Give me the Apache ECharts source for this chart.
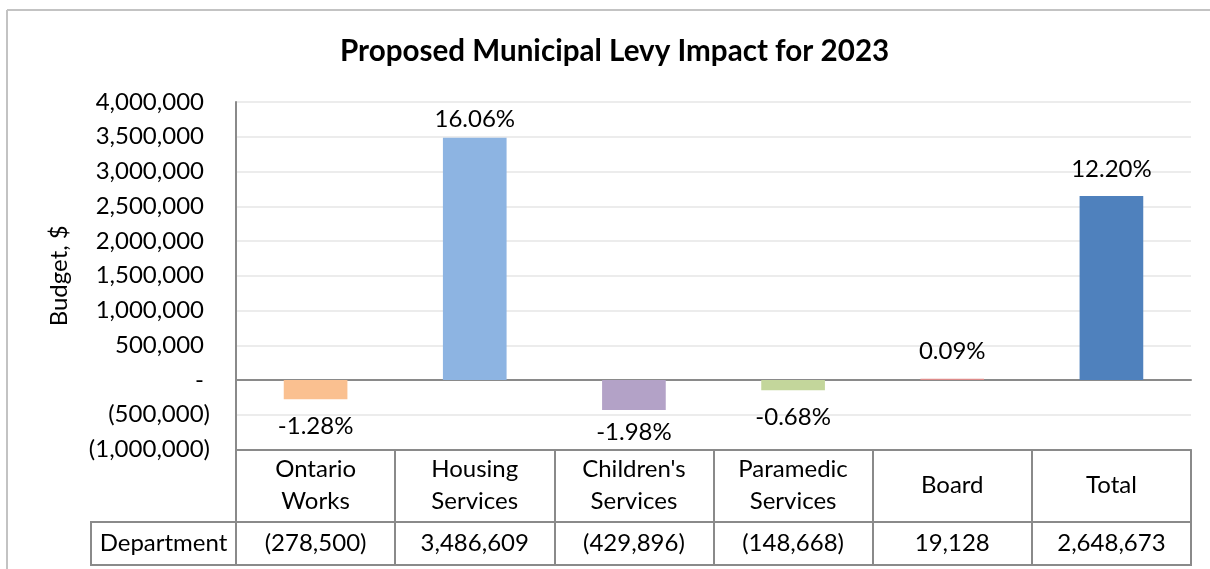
<!DOCTYPE html>
<html><head><meta charset="utf-8">
<script src="https://cdn.jsdelivr.net/npm/echarts/dist/echarts.min.js"></script>
<style>html,body{margin:0;padding:0;background:#fff}#c{width:1210px;height:569px}</style>
</head><body><div id="c"></div>
<script>
// ---- data ----
const categories = ['Ontario Works', 'Housing Services', "Children's Services", 'Paramedic Services', 'Board', 'Total'];
const levyChange = [-278500, 3486609, -429896, -148668, 19128, 2648673];
const percentLabels = ['-1.28%', '16.06%', '-1.98%', '-0.68%', '0.09%', '12.20%'];
const rowHeader = ['Department'];
const yMin = -1000000, yMax = 4000000, yInterval = 500000;
const titleText = 'Proposed Municipal Levy Impact for 2023';
const yAxisName = 'Budget, $';

// ---- styles ----
const barColors = ['#FAC090', '#8DB4E2', '#B3A2C7', '#C3D69B', '#DE8C8A', '#4F81BD'];
const FONT = 'Lato';
const GRAY = '#8a8a8a';
const FS = 24;

const plot = { left: 236, top: 102, width: 955, height: 347.5 };
const headerH = 72.5, rowH = 43;

function acct(v) {
  const s = Math.abs(v).toLocaleString('en-US');
  return v < 0 ? '(' + s + ')' : s;
}
const pxPerUnit = plot.height / (yMax - yMin);

const barData = levyChange.map((v, i) => {
  const room = (v >= 0 ? (yMax - v) : (v - yMin)) * pxPerUnit;
  const dist = Math.max(2, Math.min(15, room - 29));
  return {
    value: v,
    itemStyle: { color: barColors[i] },
    label: { position: v < 0 ? 'bottom' : 'top', distance: dist, formatter: percentLabels[i] }
  };
});

const chart = echarts.init(document.getElementById('c'), null, { renderer: 'canvas' });
chart.setOption({
  backgroundColor: '#fff',
  animation: false,
  textStyle: { fontFamily: FONT },
  title: {
    text: titleText, left: 340, top: 36, padding: 0,
    textStyle: { fontFamily: FONT, fontSize: 29.6, fontWeight: 'bold', color: '#000' }
  },
  graphic: [
    { type: 'line', shape: { x1: 7, y1: 10, x2: 1210, y2: 10 }, style: { stroke: '#c3c3c3', lineWidth: 2 } },
    { type: 'line', shape: { x1: 7, y1: 10, x2: 7, y2: 569 }, style: { stroke: '#c3c3c3', lineWidth: 2 } }
  ],
  grid: [
    { left: plot.left, top: plot.top, width: plot.width, height: plot.height },
    { left: plot.left, top: plot.top + plot.height + headerH, width: plot.width, height: rowH,
      show: true, borderColor: GRAY, borderWidth: 2, backgroundColor: 'transparent' },
    { left: 91, top: plot.top + plot.height + headerH, width: plot.left - 91, height: rowH,
      show: true, borderColor: GRAY, borderWidth: 2, backgroundColor: 'transparent' }
  ],
  xAxis: [
    { gridIndex: 0, type: 'category', data: categories,
      axisLine: { onZero: true, lineStyle: { color: GRAY, width: 2 } },
      axisTick: { show: false }, axisLabel: { show: false }, splitLine: { show: false } },
    { gridIndex: 0, type: 'category', data: categories, position: 'bottom',
      axisLine: { onZero: false, lineStyle: { color: GRAY, width: 2 } },
      axisTick: { show: true, length: headerH, lineStyle: { color: GRAY, width: 2 } },
      axisLabel: { show: true, interval: 0, margin: headerH / 2, verticalAlign: 'middle',
        lineHeight: 32, fontSize: FS, color: '#000', fontFamily: FONT,
        formatter: v => v.replace(' ', '\n') },
      splitLine: { show: false } },
    { gridIndex: 1, type: 'category', data: categories,
      axisLine: { show: false }, axisTick: { show: false },
      splitLine: { show: true, interval: 0, lineStyle: { color: GRAY, width: 2 } },
      axisLabel: { inside: true, interval: 0, margin: rowH / 2, verticalAlign: 'middle',
        fontSize: FS, color: '#000', fontFamily: FONT,
        formatter: (v, i) => acct(levyChange[i]) } },
    { gridIndex: 2, type: 'category', data: rowHeader,
      axisLine: { show: false }, axisTick: { show: false }, splitLine: { show: false },
      axisLabel: { inside: true, margin: rowH / 2, verticalAlign: 'middle',
        fontSize: FS, color: '#000', fontFamily: FONT } }
  ],
  yAxis: [
    { gridIndex: 0, type: 'value', min: yMin, max: yMax, interval: yInterval,
      name: yAxisName, nameLocation: 'middle', nameGap: 165,
      nameTextStyle: { fontSize: FS, color: '#000', fontFamily: FONT },
      axisLine: { show: true, lineStyle: { color: GRAY, width: 2 } },
      axisTick: { show: false },
      splitLine: { show: true, lineStyle: { color: '#ececec', width: 2 } },
      axisLabel: { margin: 26, fontSize: FS, color: '#000', fontFamily: FONT,
        formatter: v => v < 0 ? acct(v) : '{p|' + (v === 0 ? '-' : acct(v)) + '}',
        rich: { p: { fontSize: FS, color: '#000', fontFamily: FONT, padding: [0, 6, 0, 0] } } } },
    { gridIndex: 1, type: 'value', show: false, min: 0, max: 1 },
    { gridIndex: 2, type: 'value', show: false, min: 0, max: 1 }
  ],
  series: [{
    type: 'bar', xAxisIndex: 0, yAxisIndex: 0, barWidth: '40%',
    data: barData,
    label: { show: true, fontSize: FS, color: '#000', fontFamily: FONT }
  }]
});
</script>
</body></html>
